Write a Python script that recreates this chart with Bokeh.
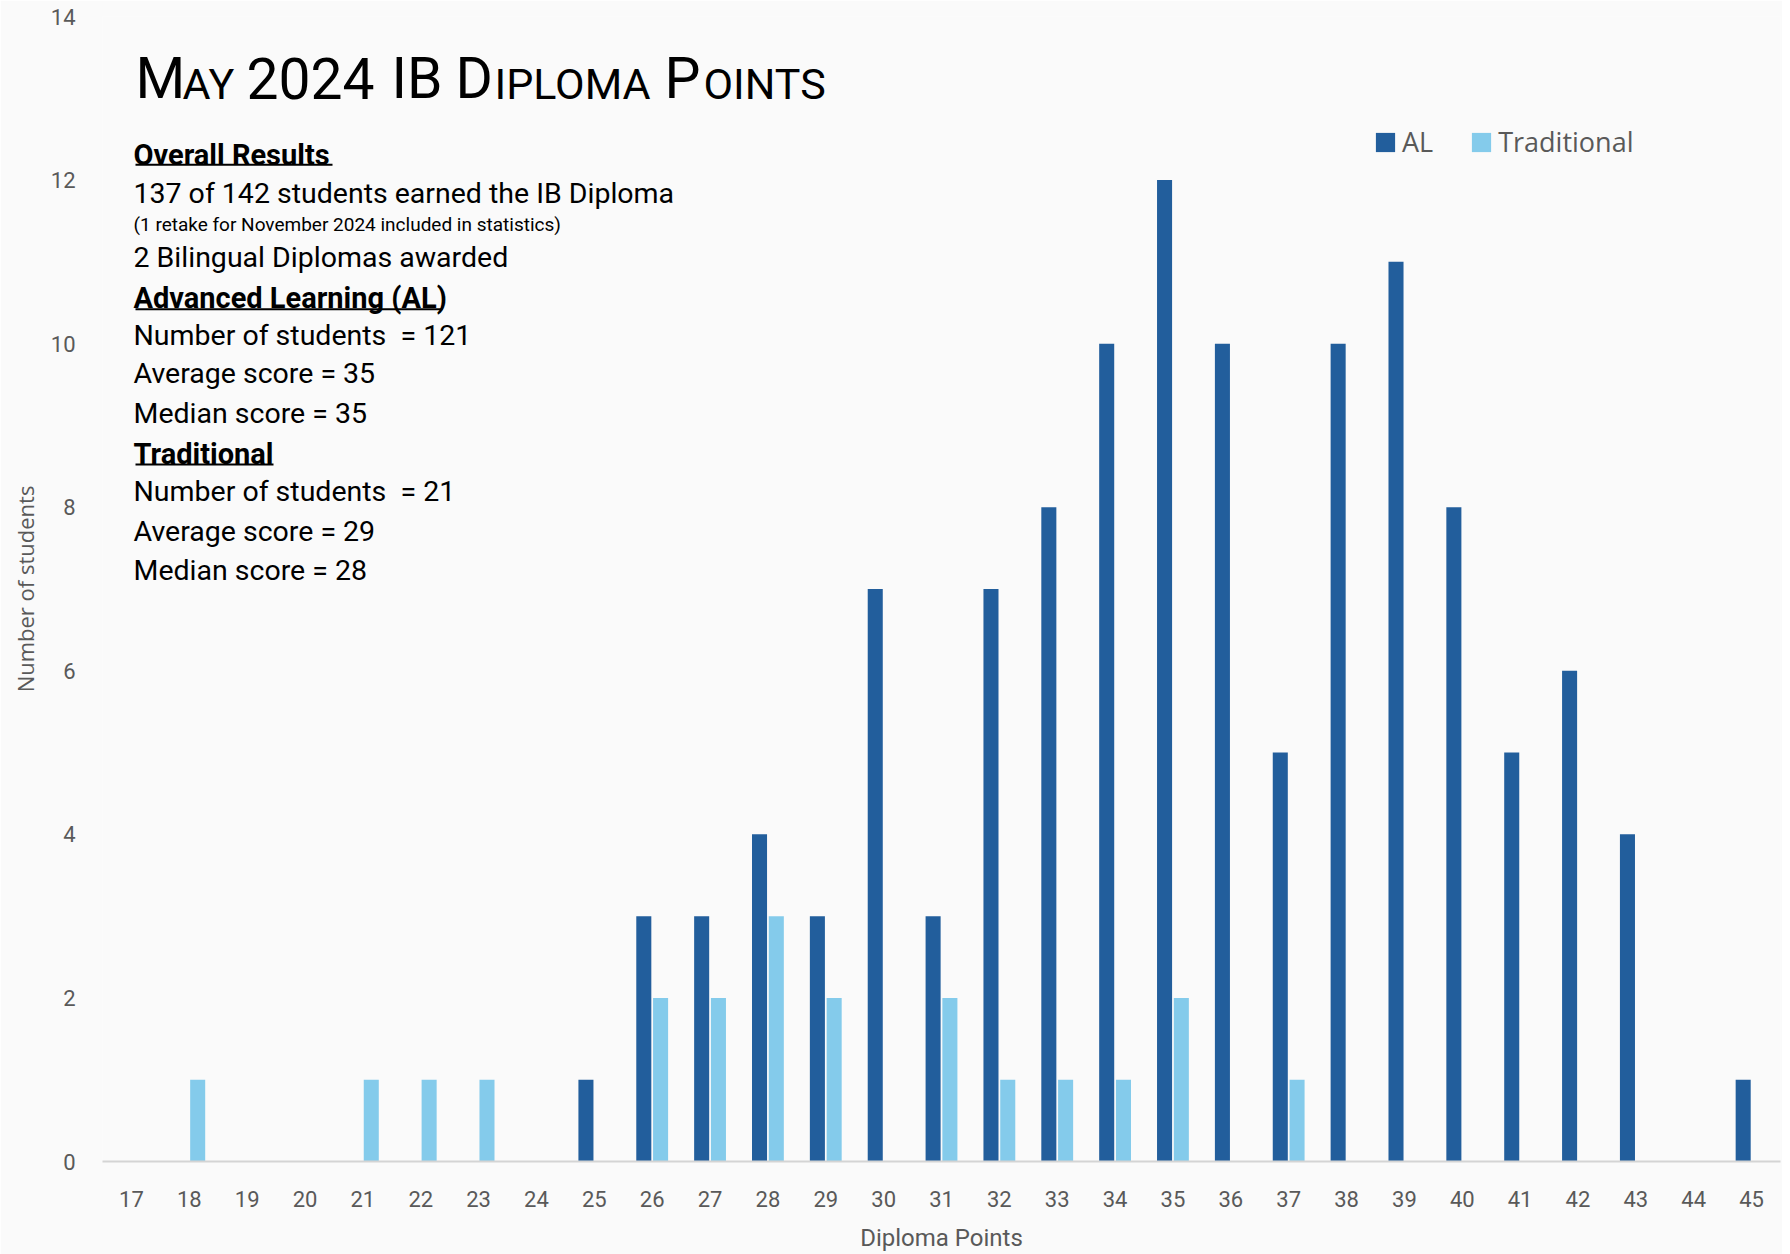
from bokeh.plotting import figure
from bokeh.models import Label, BoxAnnotation, Legend, LegendItem, FixedTicker, Range1d, ColumnDataSource
from bokeh.transform import dodge
from bokeh.embed import file_html
from bokeh.resources import INLINE

points = list(range(17, 46))
al = [0, 0, 0, 0, 0, 0, 0, 0, 1, 3, 3, 4, 3, 7, 3, 7, 8, 10, 12, 10, 5, 10, 11, 8, 5, 6, 4, 0, 1]
trad = [0, 1, 0, 0, 1, 1, 1, 0, 0, 2, 2, 3, 2, 0, 2, 1, 1, 1, 2, 0, 1, 0, 0, 0, 0, 0, 0, 0, 0]
y_ticks = [0, 2, 4, 6, 8, 10, 12, 14]

AL_COLOR = "#225E9C"
TR_COLOR = "#84CBEB"
NARROW = "Roboto"
W, H = 1782, 1254
ML, MR, MT, MB = 102, 2, 16, 88

p = figure(width=W, height=H, output_backend="svg", toolbar_location=None,
           x_range=Range1d(16.5, 45.5), y_range=Range1d(0, 14),
           min_border_left=ML, min_border_right=MR, min_border_top=MT, min_border_bottom=MB)
p.background_fill_color = "#fafafa"
p.border_fill_color = "#fafafa"
p.outline_line_color = None
p.grid.visible = False

src = ColumnDataSource(dict(x=points, al=al, trad=trad))
r_al = p.vbar(x=dodge('x', -0.145), top='al', width=0.26, source=src, fill_color=AL_COLOR, line_color=None)
r_tr = p.vbar(x=dodge('x', 0.145), top='trad', width=0.26, source=src, fill_color=TR_COLOR, line_color=None)

# axes
p.xaxis.ticker = FixedTicker(ticks=points)
p.yaxis.ticker = FixedTicker(ticks=y_ticks)
for ax in (p.xaxis, p.yaxis):
    ax.major_tick_line_color = None
    ax.minor_tick_line_color = None
    ax.major_label_text_color = "#595959"
    ax.major_label_text_font = NARROW
    ax.major_label_text_font_size = "22px"
    ax.axis_label_text_color = "#595959"
    ax.axis_label_text_font_style = "normal"
p.xaxis.axis_line_color = "#d4d4d4"
p.xaxis.axis_line_width = 2
p.yaxis.axis_line_color = None
p.xaxis.major_label_standoff = 23
p.yaxis.major_label_standoff = 21
p.xaxis.axis_label = "Diploma Points"
p.xaxis.axis_label_text_font = NARROW
p.xaxis.axis_label_text_font_size = "24px"
p.xaxis.axis_label_standoff = 14
p.yaxis.axis_label = "Number of students"
p.yaxis.axis_label_text_font = "Open Sans"
p.yaxis.axis_label_text_font_size = "22px"
p.yaxis.axis_label_standoff = 8

# legend
legend = Legend(items=[LegendItem(label="AL", renderers=[r_al]),
                       LegendItem(label="Traditional", renderers=[r_tr])],
                location=(1271, 1001), orientation="horizontal",
                glyph_width=24, glyph_height=24, label_standoff=5, spacing=36,
                padding=0, margin=0, border_line_color=None, background_fill_alpha=0,
                label_text_font="Open Sans", label_text_font_size="27px",
                label_text_color="#595959")
p.add_layout(legend)

# pixel -> data helpers for annotation placement
FW = W - ML - MR
FH = H - MT - MB
def X(px):
    return 16.5 + (px - ML) * 29.0 / FW
def Y(py):
    return 14 - (py - MT) * 14.0 / FH

# title in small caps (segments): text, left px, font px
title_segments = [("M", 135, 57), ("AY", 182, 43), ("2024", 246, 57), ("IB", 391, 57),
                  ("D", 455, 57), ("IPLOMA", 494, 43), ("P", 664, 57), ("OINTS", 703, 43)]
TITLE_BASE = 98
for t, px, fs in title_segments:
    cap_center = TITLE_BASE - 0.355 * fs
    p.add_layout(Label(x=X(px), y=Y(cap_center + 1), text=t, text_font=NARROW, text_font_size=f"{fs}px",
                       text_color="#000000", text_baseline="middle", text_align="left"))

# info text block: text, cap-centre px, bold, font px, underline width px, underline y px
NB = "\u00a0"
lines = [
    ("Overall Results", 154, True, 29, 197, 165),
    ("137 of 142 students earned the IB Diploma", 193, False, 28.5, 0, 0),
    ("(1 retake for November 2024 included in statistics)", 224, False, 19, 0, 0),
    ("2 Bilingual Diplomas awarded", 257.5, False, 28.5, 0, 0),
    ("Advanced Learning (AL)", 297.5, True, 29, 307, 310),
    ("Number of students" + NB + " = 121", 335.5, False, 28.5, 0, 0),
    ("Average score = 35", 374, False, 28.5, 0, 0),
    ("Median score = 35", 413.5, False, 28.5, 0, 0),
    ("Traditional", 454, True, 29, 138, 466),
    ("Number of students" + NB + " = 21", 492.5, False, 28.5, 0, 0),
    ("Average score = 29", 532.5, False, 28.5, 0, 0),
    ("Median score = 28", 571, False, 28.5, 0, 0),
]
TX = 133
for t, cy, bold, fs, ul, uy in lines:
    p.add_layout(Label(x=X(TX), y=Y(cy + 1), text=t, text_font=NARROW, text_font_size=f"{fs}px",
                       text_font_style="bold" if bold else "normal", text_color="#000000",
                       text_baseline="middle", text_align="left"))
    if ul:
        p.add_layout(BoxAnnotation(left=X(TX + 2), right=X(TX + 2 + ul), top=Y(uy - 1), bottom=Y(uy + 1),
                                   fill_color="#000000", fill_alpha=1, line_color=None))

open("out.html", "w").write(file_html(p, INLINE))
